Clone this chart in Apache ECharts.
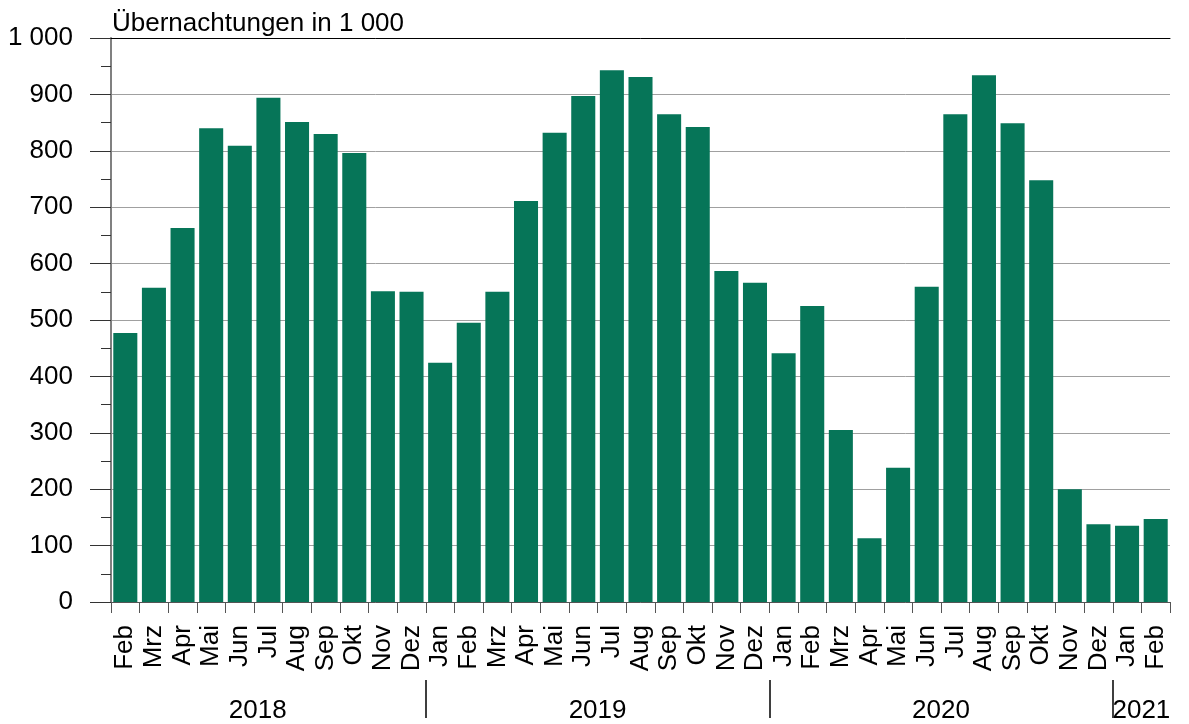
<!DOCTYPE html>
<html>
<head>
<meta charset="utf-8">
<script src="https://cdn.jsdelivr.net/npm/echarts@6/dist/echarts.min.js"></script>
<style>html,body{margin:0;padding:0;background:#fff}#c{width:1189px;height:724px}</style>
</head>
<body>
<div id="c"></div>
<script>
const months = ['Feb','Mrz','Apr','Mai','Jun','Jul','Aug','Sep','Okt','Nov','Dez',
  'Jan','Feb','Mrz','Apr','Mai','Jun','Jul','Aug','Sep','Okt','Nov','Dez',
  'Jan','Feb','Mrz','Apr','Mai','Jun','Jul','Aug','Sep','Okt','Nov','Dez',
  'Jan','Feb'];
const years = ['2018','2019','2020','2021'];
const monthsPerYear = [11, 12, 12, 2];
const values = [477,557,663,840,809,894,851,830,796,551,550,
  424,495,550,711,832,897,943,931,865,842,587,566,
  441,525,305,113,238,559,865,934,849,748,200,138,
  135,147];
const yTicks = [0,100,200,300,400,500,600,700,800,900,1000];

const FONT = "'Liberation Sans', Arial, sans-serif";
const FS = 26;
// year boundaries & label centres from the month counts
const bounds = []; const centers = [];
let s = 0;
monthsPerYear.forEach((n, i) => {
  const start = i === 0 ? s - 0.75 : s;
  centers.push((start + s + n) / 2);
  s += n;
  if (i < monthsPerYear.length - 1) bounds.push(s);
});
const total = months.length;

const chart = echarts.init(document.getElementById('c'));
chart.setOption({
  animation: false,
  title: {
    text: 'Übernachtungen in 1 000', left: 112, top: 11, padding: 0,
    textStyle: {fontFamily: FONT, fontSize: FS, fontWeight: 'normal', color: '#000'}
  },
  grid: {left: 111, right: 19, top: 38, bottom: 122, containLabel: false},
  xAxis: [
    {
      type: 'category', data: months, position: 'bottom', boundaryGap: true,
      axisLine: {lineStyle: {color: '#555', width: 1}},
      axisTick: {show: true, length: 11, interval: 0, lineStyle: {color: '#555'}},
      axisLabel: {interval: 0, rotate: 90, margin: 23, fontFamily: FONT, fontSize: FS, color: '#000'},
      splitLine: {show: false}
    },
    {
      type: 'value', min: 0, max: total, position: 'bottom', offset: 78,
      axisLine: {show: false},
      axisTick: {show: true, customValues: bounds, length: 38, inside: false, lineStyle: {color: '#000', width: 1.5}},
      axisLabel: {
        customValues: centers, margin: 18, fontFamily: FONT, fontSize: FS, color: '#000',
        formatter: v => { const i = centers.findIndex(c => Math.abs(c - v) < 1e-6); return i >= 0 ? years[i] : ''; }
      },
      splitLine: {show: false}
    },
    {
      type: 'category', data: months, position: 'top',
      axisLine: {show: true, lineStyle: {color: '#000', width: 1}},
      axisTick: {show: false}, axisLabel: {show: false}, splitLine: {show: false}
    }
  ],
  yAxis: {
    type: 'value', min: 0, max: 1000, interval: 100,
    axisLine: {show: true, lineStyle: {color: '#808080', width: 2}},
    axisTick: {show: true, length: 21, lineStyle: {color: '#333'}},
    minorTick: {show: true, splitNumber: 2, length: 10, lineStyle: {color: '#333'}},
    axisLabel: {
      margin: 38, fontFamily: FONT, fontSize: FS, color: '#000',
      customValues: yTicks,
      formatter: v => String(v).replace(/\B(?=(\d{3})+(?!\d))/g, ' ')
    },
    splitLine: {show: true, lineStyle: {color: '#a0a0a0', width: 1}}
  },
  series: [{
    type: 'bar', data: values, xAxisIndex: 0,
    barCategoryGap: '16%',
    itemStyle: {color: '#067558'}
  }]
});
</script>
</body>
</html>
